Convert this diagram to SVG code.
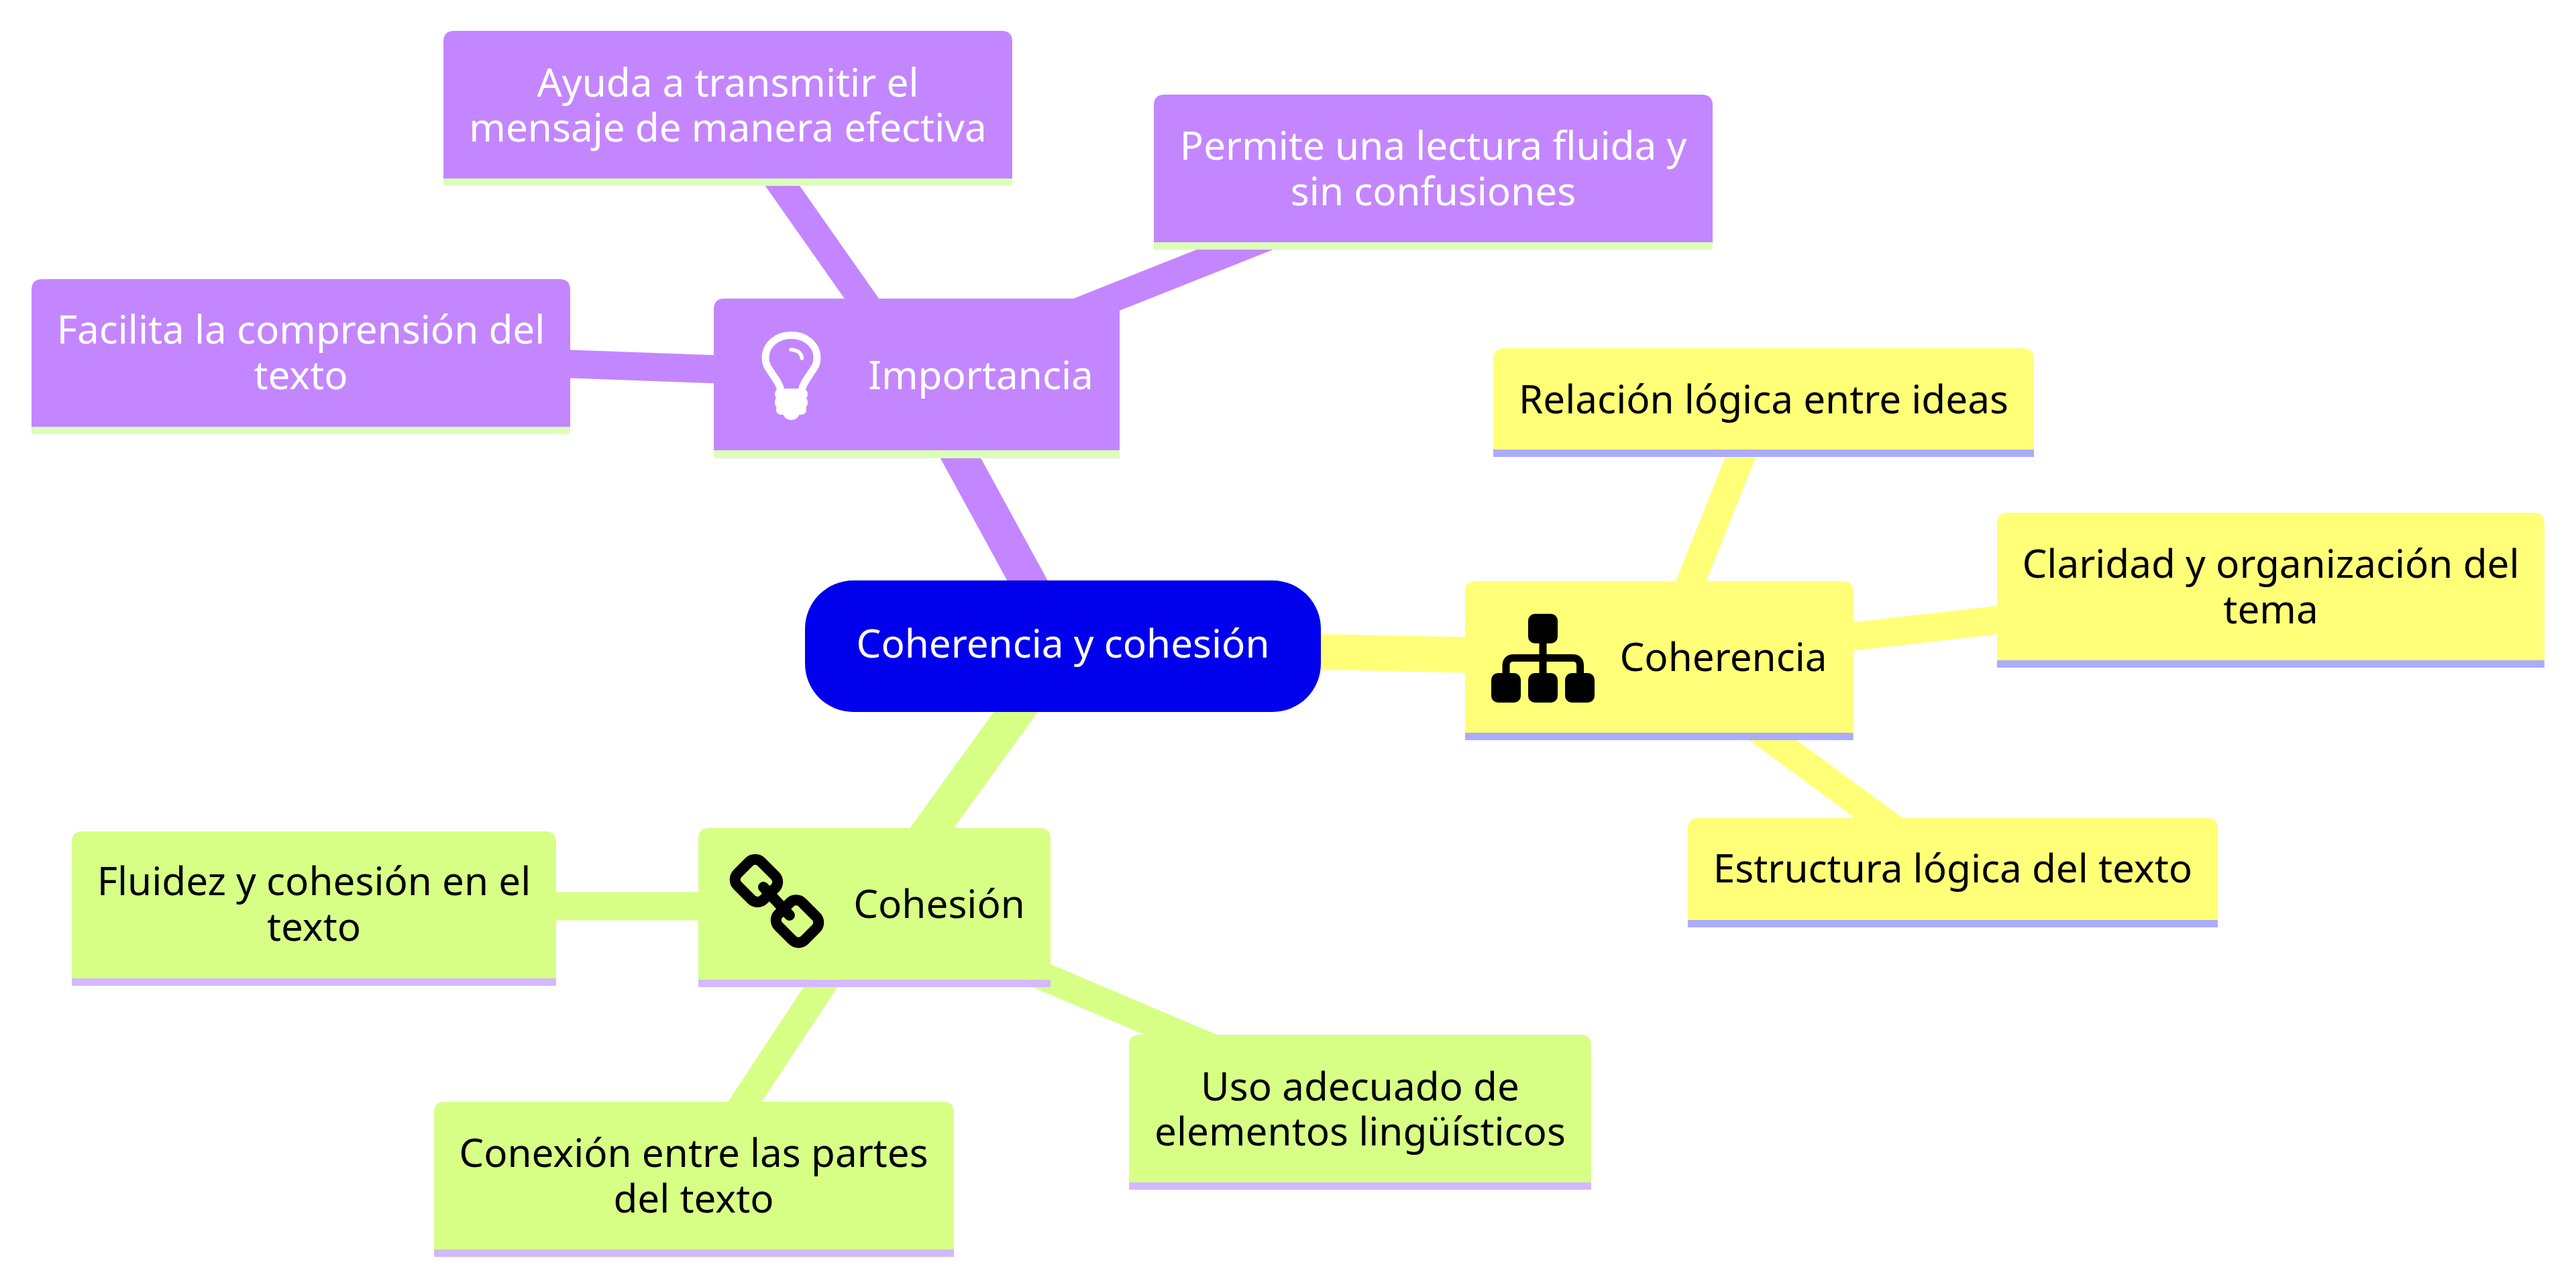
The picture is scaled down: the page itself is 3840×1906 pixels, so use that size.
<svg xmlns="http://www.w3.org/2000/svg" width="3840" height="1906" viewBox="0 0 3840 1906">
<style>
text{font-family:"Noto Sans",sans-serif;font-size:58.400px;text-anchor:middle}
.w{fill:#fff}.k{fill:#000}
.purple{fill:#c386ff}.yellow{fill:#ffff78}.green{fill:#d7ff86}
.bp{fill:#ddffb9}.by{fill:#acacff}.bg{fill:#d2b9ff}
.e{fill:none;stroke-linecap:butt}
.l1{stroke-width:53}.l2{stroke-width:42}
.sp{stroke:#c386ff}.sy{stroke:#ffff78}.sg{stroke:#d7ff86}
</style>
<rect width="3840" height="1906" fill="#fff"/>
<g id="connectors">
<path class="e l1 sp" d="M1585,963L1366,562"/>
<path class="e l1 sy" d="M1585,963.400L2473,982"/>
<path class="e l1 sg" d="M1585,963L1303.500,1352.500"/>
<path class="e l2 sp" d="M1366,561L448,528"/>
<path class="e l2 sp" d="M1366,561L1085,161"/>
<path class="e l2 sp" d="M1366,560.500L2136.500,254.600"/>
<path class="e l2 sy" d="M2473,985L2628.500,597"/>
<path class="e l2 sy" d="M2473,981.500L3385,877.500"/>
<path class="e l2 sy" d="M2477,981L2911,1300"/>
<path class="e l2 sg" d="M1303,1350.500L468,1350.500"/>
<path class="e l2 sg" d="M1303,1350L1034,1757.500"/>
<path class="e l2 sg" d="M1303,1348L2027.500,1655.400"/>
</g>
<g id="root"><rect x="1200" y="865" width="769" height="196" rx="72" fill="#0000ec"/><text class="w" x="1584.500" y="980">Coherencia y cohesión</text></g>
<g id="importancia">
<path class="purple" d="M1064,683V461Q1064,445 1080,445H1653Q1669,445 1669,461V683Z"/><rect class="bp" x="1064" y="671" width="605" height="12"/>
<g id="icon-bulb"><path d="M1164,582C1163,574 1157,566 1151,557C1146,549 1141,545 1141,533C1141,514 1158,499.500 1179.500,499.500C1201,499.500 1218,514 1218,533C1218,545 1213,549 1208,557C1202,566 1196,574 1195,582" fill="none" stroke="#fff" stroke-width="11"/><path d="M1179,521Q1194,522 1195.500,534" fill="none" stroke="#fff" stroke-width="5.500" stroke-linecap="round"/><rect x="1155" y="579" width="49" height="17" rx="8" fill="#fff"/><rect x="1155" y="591" width="49" height="18" rx="8" fill="#fff"/><rect x="1157" y="603" width="45" height="15" rx="7" fill="#fff"/><circle cx="1179.500" cy="613" r="13" fill="#fff"/></g>
<text class="w" x="1462" y="580">Importancia</text></g>
<g id="coherencia">
<path class="yellow" d="M2184,1103V882Q2184,866 2200,866H2746.500Q2762.500,866 2762.500,882V1103Z"/><rect class="by" x="2184" y="1092" width="578.500" height="11"/>
<g id="icon-sitemap"><rect x="2278" y="914.700" width="44" height="44" rx="10"/><rect x="2223" y="1003" width="44" height="44" rx="10"/><rect x="2278" y="1003" width="44" height="44" rx="10"/><rect x="2333" y="1003" width="44" height="44" rx="10"/><path d="M2300,958V1003M2245,1003V992Q2245,980.500 2257,980.500H2344Q2355.500,980.500 2355.500,992V1003" fill="none" stroke="#000" stroke-width="11"/></g>
<text class="k" x="2569" y="1000">Coherencia</text></g>
<g id="cohesion">
<path class="green" d="M1041,1471V1250Q1041,1234 1057,1234H1550Q1566,1234 1566,1250V1471Z"/><rect class="bg" x="1041" y="1460" width="525" height="11"/>
<g id="icon-chain" fill="none" stroke="#000"><rect x="1100" y="1287.500" width="55" height="50" rx="13" stroke-width="16" transform="rotate(45 1127.500 1312.500)"/><rect x="1161" y="1348" width="55" height="50" rx="13" stroke-width="16" transform="rotate(45 1188.500 1373)"/><path d="M1138,1322L1177,1364" stroke-width="16" stroke-linecap="round"/></g>
<text class="k" x="1400" y="1368">Cohesión</text></g>
<g id="ayuda"><path class="purple" d="M661,277V62Q661,46 677,46H1493Q1509,46 1509,62V277Z"/><rect class="bp" x="661" y="266" width="848" height="11"/><text class="w" x="1085" y="143.600">Ayuda a transmitir el</text><text class="w" x="1085" y="211">mensaje de manera efectiva</text></g>
<g id="facilita"><path class="purple" d="M47,647V432Q47,416 63,416H834Q850,416 850,432V647Z"/><rect class="bp" x="47" y="636" width="803" height="11"/><text class="w" x="448.500" y="512.400">Facilita la comprensión del</text><text class="w" x="448.500" y="580">texto</text></g>
<g id="permite"><path class="purple" d="M1720,372V157Q1720,141 1736,141H2537Q2553,141 2553,157V372Z"/><rect class="bp" x="1720" y="361" width="833" height="11"/><text class="w" x="2136.500" y="237.500">Permite una lectura fluida y</text><text class="w" x="2136.500" y="305.700">sin confusiones</text></g>
<g id="relacion"><path class="yellow" d="M2226,681V535Q2226,519 2242,519H3016Q3032,519 3032,535V681Z"/><rect class="by" x="2226" y="670" width="806" height="11"/><text class="k" x="2629" y="615.700">Relación lógica entre ideas</text></g>
<g id="claridad"><path class="yellow" d="M2977,995V780Q2977,764 2993,764H3777Q3793,764 3793,780V995Z"/><rect class="by" x="2977" y="984" width="816" height="11"/><text class="k" x="3385" y="860.500">Claridad y organización del</text><text class="k" x="3385" y="928.500">tema</text></g>
<g id="estructura"><path class="yellow" d="M2516,1382V1235Q2516,1219 2532,1219H3290Q3306,1219 3306,1235V1382Z"/><rect class="by" x="2516" y="1371" width="790" height="11"/><text class="k" x="2911" y="1315">Estructura lógica del texto</text></g>
<g id="fluidez"><path class="green" d="M107,1469V1255Q107,1239 123,1239H813Q829,1239 829,1255V1469Z"/><rect class="bg" x="107" y="1458" width="722" height="11"/><text class="k" x="468" y="1334">Fluidez y cohesión en el</text><text class="k" x="468" y="1402">texto</text></g>
<g id="conexion"><path class="green" d="M647,1873V1658Q647,1642 663,1642H1406Q1422,1642 1422,1658V1873Z"/><rect class="bg" x="647" y="1862" width="775" height="11"/><text class="k" x="1034" y="1738.600">Conexión entre las partes</text><text class="k" x="1034" y="1806.600">del texto</text></g>
<g id="uso"><path class="green" d="M1683,1773V1558Q1683,1542 1699,1542H2356Q2372,1542 2372,1558V1773Z"/><rect class="bg" x="1683" y="1762" width="689" height="11"/><text class="k" x="2027.500" y="1639.600">Uso adecuado de</text><text class="k" x="2027.500" y="1707">elementos lingüísticos</text></g>
</svg>
